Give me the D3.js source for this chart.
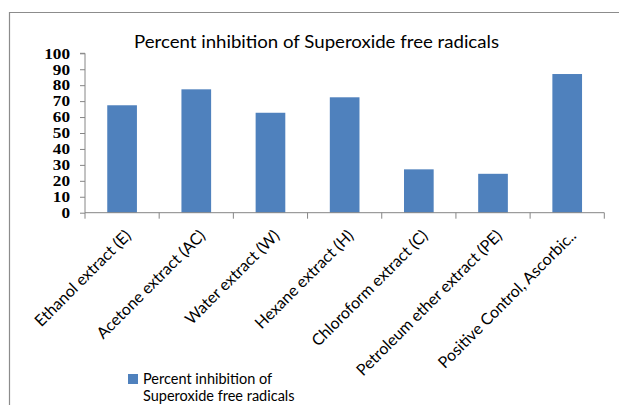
<!DOCTYPE html>
<html><head><meta charset="utf-8">
<script src="https://cdn.jsdelivr.net/npm/d3@7"></script>
<style>body{margin:0;background:#fff}</style>
</head><body>
<svg id="c" width="619" height="405"></svg>
<script>
const categories = ["Ethanol extract (E)","Acetone extract (AC)","Water  extract (W)","Hexane extract (H)","Chloroform extract (C)","Petroleum ether extract (PE)","Positive Control, Ascorbic.."];
const values = [67.4, 77.4, 62.7, 72.4, 27.2, 24.4, 87.0];
const yTicks = [0,10,20,30,40,50,60,70,80,90,100];
const title = "Percent inhibition of Superoxide free radicals";
const seriesName = ["Percent inhibition of", "Superoxide free radicals"];

const svg = d3.select("#c");
const color = "#4F81BD", axisColor = "#868686";
const pL = 85, pR = 604.3, pT = 53.3, pB = 212.7;

// outer border
svg.append("path").attr("d","M9.5,405 V12.5 H619").attr("fill","none").attr("stroke","#8c8c8c").attr("stroke-width",1.2);

const x = d3.scaleBand().domain(categories).range([pL,pR]).paddingInner(0.6).paddingOuter(0.3);
const y = d3.scaleLinear().domain([0,100]).range([pB,pT]);

svg.selectAll("rect.bar").data(values).join("rect").attr("class","bar")
  .attr("x",(d,i)=>x(categories[i])).attr("width",x.bandwidth())
  .attr("y",d=>y(d)).attr("height",d=>y(0)-y(d)).attr("fill",color);

// y axis
const ya = svg.append("g").attr("transform",`translate(${pL},0)`)
  .call(d3.axisLeft(y).tickValues(yTicks).tickSize(5).tickPadding(10));
ya.select(".domain").attr("stroke",axisColor).attr("d",`M-5,${pT}H0V${pB}`);
ya.selectAll(".tick line").attr("stroke",axisColor);
ya.selectAll(".tick text").attr("font-family","Liberation Serif").attr("font-size",14).attr("fill","#000")
  .attr("font-weight","bold").attr("dy","0.34em")
  .attr("textLength",function(){return this.textContent.length*8.6;}).attr("lengthAdjust","spacingAndGlyphs");

// x axis with ticks at band boundaries
const xa = svg.append("g").attr("transform",`translate(0,${pB})`);
xa.append("line").attr("x1",pL).attr("x2",pR).attr("stroke",axisColor);
const bounds = d3.range(categories.length+1).map(i=>pL+i*(pR-pL)/categories.length);
xa.selectAll("line.t").data(bounds).join("line").attr("class","t")
  .attr("x1",d=>d).attr("x2",d=>d).attr("y1",0).attr("y2",6).attr("stroke",axisColor);
xa.selectAll("text").data(categories).join("text")
  .attr("transform",(d)=>`translate(${x(d)+x.bandwidth()/2+10},24) rotate(-45)`)
  .attr("text-anchor","end").attr("font-family","Lato").attr("font-size",16).attr("fill","#000")
  .text(d=>d);

// title
svg.append("text").attr("x",316.5).attr("y",48).attr("text-anchor","middle")
  .attr("font-family","Lato").attr("font-size",18).attr("fill","#000")
  .attr("textLength",365).attr("lengthAdjust","spacingAndGlyphs").text(title);

// legend
svg.append("rect").attr("x",128).attr("y",374).attr("width",10).attr("height",10).attr("fill",color);
svg.selectAll("text.leg").data(seriesName).join("text").attr("class","leg")
  .attr("font-family","Lato").attr("font-size",14.5).attr("fill","#000")
  .attr("x",143).attr("y",(d,i)=>384+i*16.5).text(d=>d);
</script>
</body></html>
